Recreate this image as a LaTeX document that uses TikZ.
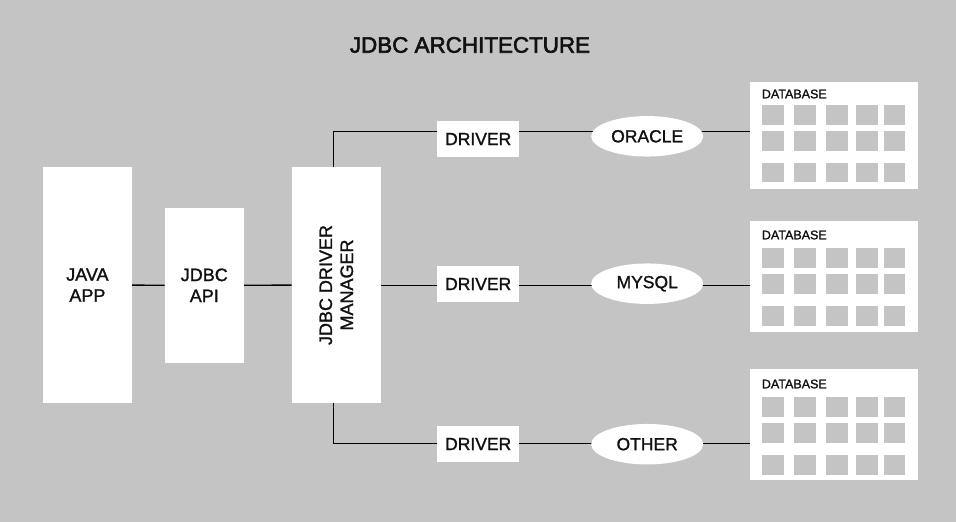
\documentclass[tikz,border=0pt]{standalone}
\usepackage{fontspec}
\setmainfont{Liberation Sans}[FakeBold=1.3]
\newfontface\titlefont{Liberation Sans}[FakeBold=2.6]
\usetikzlibrary{shapes.geometric}
\pgfdeclarelayer{bg}
\pgfdeclarelayer{edges}
\pgfsetlayers{bg,edges,main}
\definecolor{bggray}{RGB}{196,196,196}
\definecolor{ink}{RGB}{17,17,17}
\tikzset{
  box/.style={fill=white, draw=none, inner sep=0pt, align=center, text=ink, font=\fontsize{18}{21}\selectfont},
  drvbox/.style={box, minimum width=82pt, minimum height=36pt, font=\fontsize{17.5}{21}\selectfont},
  dbell/.style={ellipse, fill=white, inner sep=0pt, text=ink, minimum width=112pt, minimum height=40.5pt, font=\fontsize{17.5}{21}\selectfont},
  conn/.style={draw=black, line width=1.3pt},
  dbbox/.style={fill=white, draw=none, inner sep=0pt, anchor=north west, minimum width=167.7pt},
  cell/.style={fill=bggray, draw=none, inner sep=0pt, anchor=north west, minimum width=21.7pt, minimum height=19.7pt},
  dblabel/.style={font=\fontsize{12.5}{14}\selectfont, text=ink, anchor=west, inner sep=0pt},
}
\begin{document}
\begin{tikzpicture}[x=1pt,y=-1pt]
\begin{pgfonlayer}{bg}
\fill[bggray] (0,0) rectangle (956,522);
\end{pgfonlayer}
\useasboundingbox (0,0) rectangle (956,522);

\node[text=ink, inner sep=0pt, font=\titlefont\fontsize{22.4}{27}\selectfont] (title) at (470,45) {JDBC ARCHITECTURE};

\node[box, minimum width=89pt, minimum height=236pt] (java) at (87.4,285) {JAVA\\APP};
\node[box, minimum width=79pt, minimum height=155pt] (api) at (204.3,285.3) {JDBC\\API};
\node[box, minimum width=89pt, minimum height=236pt] (mgr) at (336.3,285) {};
\node[rotate=90, align=center, text=ink, inner sep=0pt, font=\fontsize{18}{21}\selectfont] (mgrtext) at (mgr.center) {JDBC DRIVER\\MANAGER};

\node[drvbox, minimum height=36.6pt] (drv1) at (478.2,139) {DRIVER};
\node[drvbox] (drv2) at (478.2,284) {DRIVER};
\node[drvbox] (drv3) at (478.2,444) {DRIVER};

\node[dbell] (ora) at (647.2,136.3) {ORACLE};
\node[dbell] (mys) at (647.2,283.7) {MYSQL};
\node[dbell] (oth) at (647.2,444.2) {OTHER};

% databases: name / top / height / label y / row1 / row2 / row3
\foreach \n/\t/\h/\ly/\ra/\rb/\rc in {db1/81.7/106.6/94/105/131.2/162.5, db2/220.7/111/235/247.7/274/306.2, db3/369/111/384/396.7/422.7/455.2}{
  \node[dbbox, minimum height=\h pt] (\n) at (750,\t) {};
  \node[dblabel] (\n lab) at (761.7,\ly) {DATABASE};
  \foreach \r in {\ra,\rb,\rc}{
    \foreach \c in {761.7,794,826,856,883.3}{
      \node[cell] at (\c,\r) {};
    }
  }
}

\coordinate (ytop) at (333.3,131.7);
\coordinate (ymid) at (333.3,285.3);
\coordinate (ybot) at (333.3,443.3);

\begin{pgfonlayer}{edges}
\draw[conn] (java) -- (api);
\draw[conn] (api) -- (mgr);
\draw[conn] (mgr.center |- ymid) -- (drv2.center |- ymid);
\draw[conn] (mgr.north -| ytop) -- (ytop) -- (drv1.center |- ytop);
\draw[conn] (mgr.south -| ybot) -- (ybot) -- (drv3.center |- ybot);
\draw[conn] (drv1.center |- ytop) -- (ora.center |- ytop);
\draw[conn] (ora.center |- ytop) -- (db1.center |- ytop);
\draw[conn] (drv2.center |- ymid) -- (mys.center |- ymid);
\draw[conn] (mys.center |- ymid) -- (db2.center |- ymid);
\draw[conn] (drv3.center |- ybot) -- (oth.center |- ybot);
\draw[conn] (oth.center |- ybot) -- (db3.center |- ybot);
\end{pgfonlayer}
\end{tikzpicture}
\end{document}
